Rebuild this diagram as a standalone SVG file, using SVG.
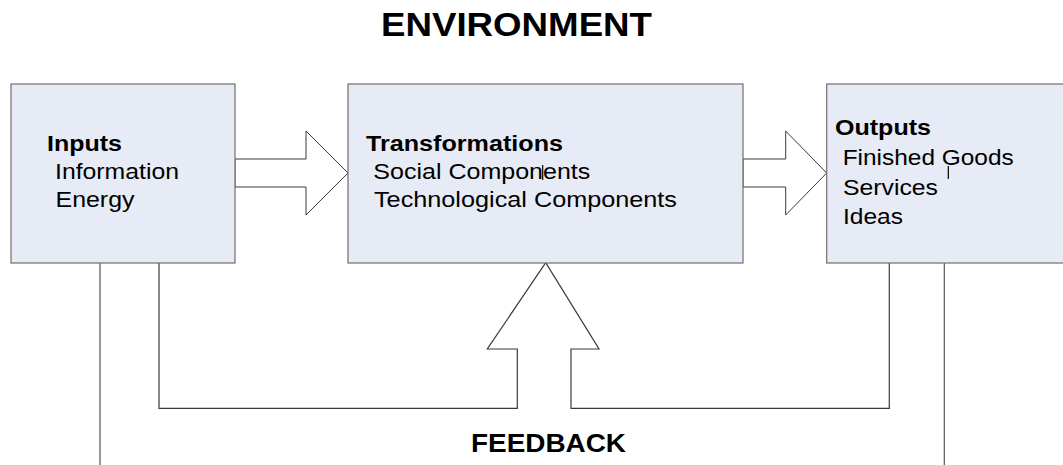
<svg xmlns="http://www.w3.org/2000/svg" width="1063" height="465" viewBox="0 0 1063 465">
<style>
.box{fill:#E7EBF5;stroke:#6E6E6E;stroke-width:1.2}
.arr{fill:#FFFFFF;stroke:#3A3A3A;stroke-width:1}
.ln{fill:none;stroke:#3A3A3A;stroke-width:1.2}
.gl{fill:none;stroke:#555555;stroke-width:1.2}
.t{font-family:"Liberation Sans",Arial,sans-serif;font-size:22px;fill:#000}
.b{font-weight:bold}
.h{font-family:"Liberation Sans",Arial,sans-serif;font-weight:bold;fill:#000}
</style>
<rect width="1063" height="465" fill="#FFFFFF"/>
<text class="h" x="381" y="36" font-size="33" textLength="271" lengthAdjust="spacingAndGlyphs">ENVIRONMENT</text>
<g id="connectors">
<polygon class="arr" points="235,159 306,159 306,131 348,173 306,215 306,187 235,187"/>
<polygon class="arr" points="743,159 785.7,159 785.7,131 826.7,173 785.7,215 785.7,187 743,187"/>
<path class="ln" d="M159,263 V408.3 H517.3 V349 H487.3 L545.7,262.7 L599,349 H571 V408.3 H889.3 V263"/>
<path class="gl" d="M100,263 V465 M944.3,263 V465"/>
</g>
<g id="inputs">
<rect class="box" x="11" y="84" width="224" height="179"/>
<text class="t b" x="47" y="151" textLength="75" lengthAdjust="spacingAndGlyphs">Inputs</text>
<text class="t" x="55" y="179" textLength="124" lengthAdjust="spacingAndGlyphs">Information</text>
<text class="t" x="55.5" y="207" textLength="79" lengthAdjust="spacingAndGlyphs">Energy</text>
</g>
<g id="transformations">
<rect class="box" x="348" y="84" width="395" height="179"/>
<text class="t b" x="366" y="151" textLength="197" lengthAdjust="spacingAndGlyphs">Transformations</text>
<text class="t" x="373.3" y="179" textLength="217" lengthAdjust="spacingAndGlyphs">Social Components</text>
<text class="t" x="374" y="207" textLength="303" lengthAdjust="spacingAndGlyphs">Technological Components</text>
<path d="M542.7,165 V180" stroke="#000" stroke-width="1.2"/>
</g>
<g id="outputs">
<rect class="box" x="826.7" y="84" width="240" height="179"/>
<text class="t b" x="835" y="135" textLength="96" lengthAdjust="spacingAndGlyphs">Outputs</text>
<text class="t" x="842.7" y="165" textLength="171" lengthAdjust="spacingAndGlyphs">Finished Goods</text>
<text class="t" x="843" y="195" textLength="95" lengthAdjust="spacingAndGlyphs">Services</text>
<text class="t" x="843" y="224" textLength="60" lengthAdjust="spacingAndGlyphs">Ideas</text>
<path d="M948.3,166 V179" stroke="#000" stroke-width="1.2"/>
</g>
<text class="h" x="471" y="452" font-size="25" textLength="155" lengthAdjust="spacingAndGlyphs">FEEDBACK</text>
</svg>
